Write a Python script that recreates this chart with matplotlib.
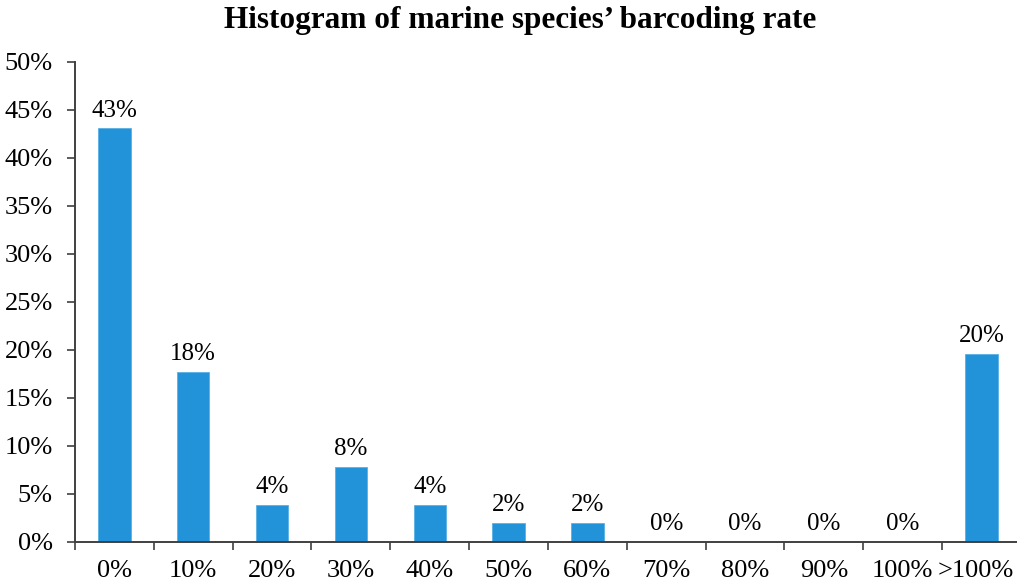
import matplotlib.pyplot as plt
import matplotlib.transforms as mtransforms
import numpy as np

categories = ['0%', '10%', '20%', '30%', '40%', '50%', '60%', '70%', '80%', '90%', '100%', '>100%']
rates = [43.1, 17.7, 3.9, 7.8, 3.9, 2.0, 2.0, 0, 0, 0, 0, 19.6]
bar_labels = ['43%', '18%', '4%', '8%', '4%', '2%', '2%', '0%', '0%', '0%', '0%', '20%']
y_ticks = [0, 5, 10, 15, 20, 25, 30, 35, 40, 45, 50]

plt.rcParams['font.family'] = ['Liberation Serif', 'DejaVu Serif']

fig = plt.figure(figsize=(10.17, 5.85), dpi=100)
ax = fig.add_axes([75 / 1017, 1 - 542 / 585, 1 - 75 / 1017, (542 - 62) / 585])

x = np.arange(len(categories))
ax.bar(x, rates, width=0.41, color='#2293d8', edgecolor='#5ab0e6', linewidth=0.6)

for xi, v, lab in zip(x, rates, bar_labels):
    ax.text(xi, v + 0.7, lab, ha='center', va='bottom', fontsize=18)

ax.set_xlim(-0.5, len(categories) - 0.55)
ax.set_ylim(0, 50)
ax.set_yticks(y_ticks)
ax.set_yticklabels([f'{t}%' for t in y_ticks], fontsize=19)
ax.set_xticks(x)
ax.set_xticklabels(categories, fontsize=19)
ax.set_xticks(np.arange(-0.5, len(categories) - 1, 1), minor=True)
ax.tick_params(axis='x', which='major', length=0, pad=13)
ax.tick_params(axis='x', which='minor', length=6, width=1.2, color='#404040', direction='out')
ax.tick_params(axis='y', length=6, width=1.2, color='#404040', pad=10)

# last label sits at the right edge, nudge it in so it isn't clipped
last = ax.get_xticklabels()[-1]
last.set_transform(last.get_transform() + mtransforms.ScaledTranslation(-6 / 100, 0, fig.dpi_scale_trans))

for s in ['top', 'right']:
    ax.spines[s].set_visible(False)
for s in ['left', 'bottom']:
    ax.spines[s].set_color('#404040')
    ax.spines[s].set_linewidth(1.4)

fig.suptitle("Histogram of marine species\u2019 barcoding rate", fontsize=22.5,
             fontweight='bold', x=0.511, y=0.99)

fig.savefig('out.png', dpi=100)
